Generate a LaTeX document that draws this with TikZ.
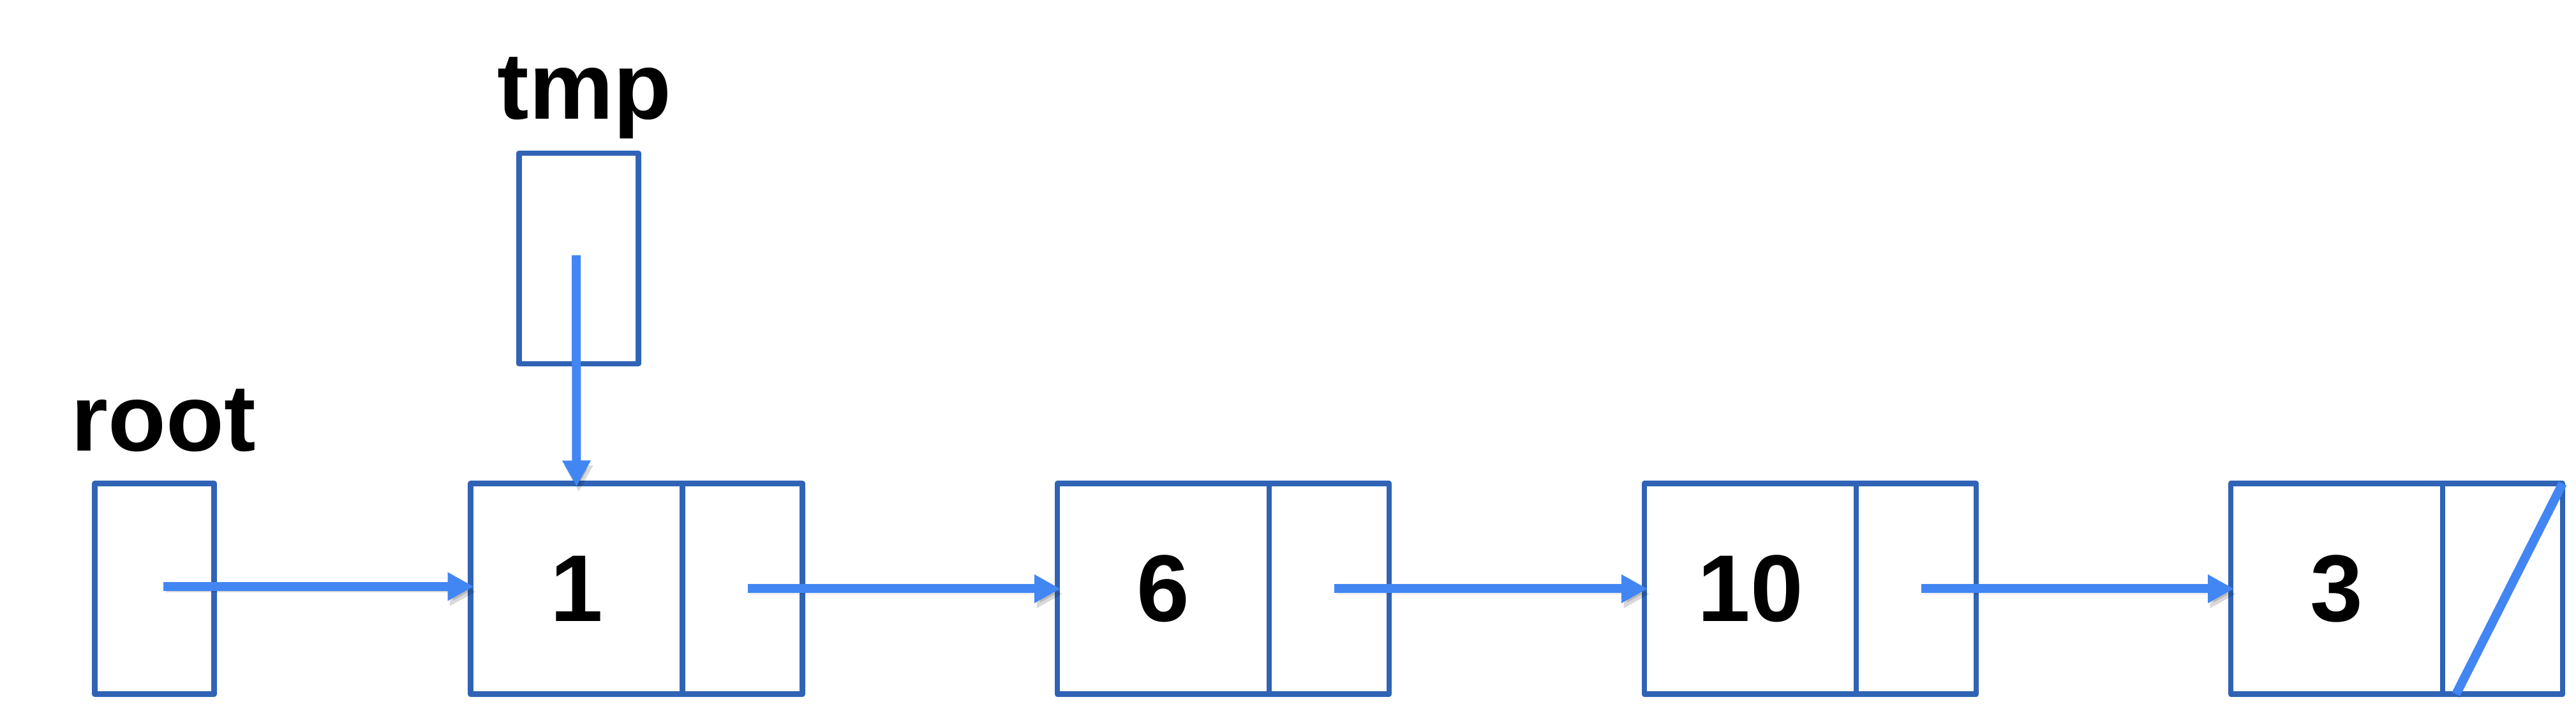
\documentclass[tikz,border=0pt]{standalone}
\usepackage{fontspec}
\setmainfont{Liberation Sans}
\usetikzlibrary{arrows.meta,calc}
\definecolor{boxblue}{RGB}{48,99,181}
\definecolor{arrowblue}{RGB}{66,134,244}
\newcommand\lab{\fontsize{42.3pt}{50pt}\selectfont\bfseries}
\tikzset{
  box/.style={draw=boxblue, line width=0.85mm, line join=round, minimum height=3.3cm, inner sep=0pt, outer sep=0pt},
  datab/.style={box, minimum width=3.32cm, font=\lab},
  ptrb/.style={box, minimum width=1.88cm},
  varb/.style={box, minimum width=1.87cm, minimum height=3.3cm},
  shadowed/.style={preaction={draw=black, opacity=0.15, transform canvas={shift={(0.035,-0.08)}}}},
  link/.style={draw=arrowblue, line width=1.4mm, -{Triangle[length=4.1mm,width=4.2mm]}, shorten >=-0.5mm, shadowed},
  slash/.style={draw=arrowblue, line width=1.4mm, shadowed},
  lbl/.style={font=\lab, anchor=base, inner sep=0pt},
}
\begin{document}
\begin{tikzpicture}
\useasboundingbox (0,0) rectangle (40.37,11.14);
% variables
\node[varb] (root) at (2.42,1.915) {};
\node[lbl] (rootl) at (2.56,4.07) {root};
\node[varb] (tmp) at (9.07,7.09) {};
\node[lbl] (tmpl) at (9.16,9.27) {tmp};
% list nodes
\node[datab, anchor=west] (n1) at (7.375,1.915) {1};
\node[ptrb, anchor=west] (p1) at (n1.east) {};
\node[datab, anchor=west] (n6) at (16.57,1.915) {6};
\node[ptrb, anchor=west] (p6) at (n6.east) {};
\node[datab, anchor=west] (n10) at (25.77,1.915) {10};
\node[ptrb, anchor=west] (p10) at (n10.east) {};
\node[datab, anchor=west] (n3) at (34.96,1.915) {3};
\node[ptrb, anchor=west] (p3) at (n3.east) {};
% connectors
\coordinate (rs) at (2.56,1.95);
\draw[link] (rs) -- (n1.west |- rs);
\coordinate (ts) at (9.03,7.14);
\draw[link] (ts) -- (n1.north);
\coordinate (s1) at ($(p1.center)+(0.08,0)$);
\draw[link] (s1) -- (n6.west);
\coordinate (s6) at ($(p6.center)+(0.08,0)$);
\draw[link] (s6) -- (n10.west);
\coordinate (s10) at ($(p10.center)+(0.08,0)$);
\draw[link] (s10) -- (n3.west);
\coordinate (nb) at ($(p3.south west)+(0.21,0)$);
\draw[slash] (nb) -- (p3.north east);
\end{tikzpicture}
\end{document}
